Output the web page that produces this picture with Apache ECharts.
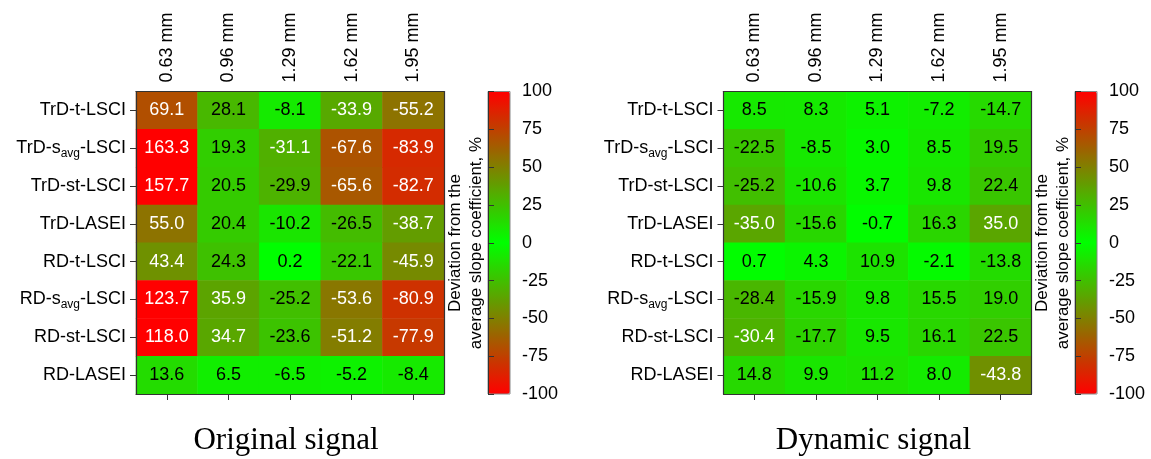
<!DOCTYPE html>
<html>
<head>
<meta charset="utf-8">
<script src="https://cdn.jsdelivr.net/npm/echarts@6/dist/echarts.min.js"></script>
<style>
html,body{margin:0;padding:0;background:#fff;}
#chart{width:1151px;height:459px;}
</style>
</head>
<body>
<div id="chart"></div>
<script>
// ---- data ----
const columns = ['0.63 mm', '0.96 mm', '1.29 mm', '1.62 mm', '1.95 mm'];
const rows = ['TrD-t-LSCI', 'TrD-savg-LSCI', 'TrD-st-LSCI', 'TrD-LASEI',
              'RD-t-LSCI', 'RD-savg-LSCI', 'RD-st-LSCI', 'RD-LASEI'];
const originalValues = [
  [69.1, 28.1, -8.1, -33.9, -55.2],
  [163.3, 19.3, -31.1, -67.6, -83.9],
  [157.7, 20.5, -29.9, -65.6, -82.7],
  [55.0, 20.4, -10.2, -26.5, -38.7],
  [43.4, 24.3, 0.2, -22.1, -45.9],
  [123.7, 35.9, -25.2, -53.6, -80.9],
  [118.0, 34.7, -23.6, -51.2, -77.9],
  [13.6, 6.5, -6.5, -5.2, -8.4]
];
const dynamicValues = [
  [8.5, 8.3, 5.1, -7.2, -14.7],
  [-22.5, -8.5, 3.0, 8.5, 19.5],
  [-25.2, -10.6, 3.7, 9.8, 22.4],
  [-35.0, -15.6, -0.7, 16.3, 35.0],
  [0.7, 4.3, 10.9, -2.1, -13.8],
  [-28.4, -15.9, 9.8, 15.5, 19.0],
  [-30.4, -17.7, 9.5, 16.1, 22.5],
  [14.8, 9.9, 11.2, 8.0, -43.8]
];
const colorbarMin = -100;
const colorbarMax = 100;
const colorbarStep = 25;
const panelTitles = ['Original signal', 'Dynamic signal'];
const colorbarTitle = 'Deviation from the\naverage slope coefficient, %';

// ---- helpers ----
const SANS = 'Liberation Sans, Arial, sans-serif';
const SERIF = 'Liberation Serif, Times New Roman, serif';
const AXIS_COLOR = '#333';

function buildData(values) {
  const out = [];
  values.forEach((row, r) => {
    row.forEach((v, c) => {
      out.push({
        value: [c, r, v],
        label: { color: Math.abs(v) > 30 ? '#ffffff' : '#000000' }
      });
    });
  });
  return out;
}

function rowFormatter(name) {
  return name.replace('savg', 's{sub|avg}');
}

const gridLeft = [136, 723.5];
const gridWidth = 308;
const gridTop = 91.5;
const gridHeight = 302.5;
const cbLeft = [488, 1075];
const cbWidth = 22;

const grids = [];
const xAxes = [];
const yAxes = [];
const series = [];
const visualMaps = [];
const graphics = [];
const panels = [originalValues, dynamicValues];

panels.forEach((vals, p) => {
  const g = grids.length;
  grids.push({ left: gridLeft[p], top: gridTop, width: gridWidth, height: gridHeight });
  // top axis with labels
  xAxes.push({
    type: 'category', gridIndex: g, data: columns, position: 'top', z: 10,
    axisLine: { show: true, lineStyle: { color: AXIS_COLOR, width: 1.2 } },
    axisTick: { show: false },
    axisLabel: { rotate: -90, margin: 9, fontSize: 18, fontFamily: SANS, color: '#000' },
    splitLine: { show: false }
  });
  // bottom axis with ticks only
  xAxes.push({
    type: 'category', gridIndex: g, data: columns, position: 'bottom', z: 10,
    axisLine: { show: true, lineStyle: { color: AXIS_COLOR, width: 1.2 } },
    axisTick: { show: true, alignWithLabel: true, length: 6, lineStyle: { color: AXIS_COLOR } },
    axisLabel: { show: false },
    splitLine: { show: false }
  });
  // left axis with labels
  yAxes.push({
    type: 'category', gridIndex: g, data: rows, inverse: true, position: 'left', z: 10,
    axisLine: { show: true, lineStyle: { color: AXIS_COLOR, width: 1.2 } },
    axisTick: { show: true, alignWithLabel: true, length: 6, lineStyle: { color: AXIS_COLOR } },
    axisLabel: {
      margin: 10, fontSize: 18, fontFamily: SANS, color: '#000',
      formatter: rowFormatter,
      rich: { sub: { fontSize: 12, fontFamily: SANS, color: '#000', padding: [11, 0, 0, 0] } }
    },
    splitLine: { show: false }
  });
  // right border
  yAxes.push({
    type: 'category', gridIndex: g, data: rows, inverse: true, position: 'right', z: 10,
    axisLine: { show: true, lineStyle: { color: AXIS_COLOR, width: 1.2 } },
    axisTick: { show: false }, axisLabel: { show: false }, splitLine: { show: false }
  });
  series.push({
    type: 'heatmap', xAxisIndex: 2 * p, yAxisIndex: 2 * p,
    data: buildData(vals),
    label: {
      show: true, fontSize: 18, fontFamily: SANS,
      formatter: (pr) => pr.value[2].toFixed(1)
    },
    itemStyle: { borderWidth: 0 },
    emphasis: { disabled: true }
  });
  visualMaps.push({
    type: 'continuous', seriesIndex: p, dimension: 2,
    min: colorbarMin, max: colorbarMax,
    calculable: false, orient: 'vertical', realtime: false,
    left: cbLeft[p], top: gridTop, itemWidth: cbWidth, itemHeight: gridHeight,
    padding: 0, text: null, showLabel: false, hoverLink: false,
    inRange: { color: ['#ff0000', '#808000', '#00ff00', '#808000', '#ff0000'] }
  });
  graphics.push({
    type: 'text', x: gridLeft[p] + gridWidth / 2 - 4, y: 441,
    style: { text: panelTitles[p], font: '31px ' + SERIF, fill: '#000', textAlign: 'center', textVerticalAlign: 'middle' }
  });
  graphics.push({
    type: 'text', x: (gridLeft[p] + gridWidth + cbLeft[p]) / 2, y: 243,
    rotation: Math.PI / 2,
    style: { text: colorbarTitle, font: '17px ' + SANS, fill: '#000', textAlign: 'center', textVerticalAlign: 'middle', lineHeight: 21 }
  });
});

// colorbar axes
panels.forEach((vals, p) => {
  const g = grids.length;
  grids.push({ left: cbLeft[p], top: gridTop, width: cbWidth, height: gridHeight, show: true, borderColor: '#888', borderWidth: 1, backgroundColor: 'transparent', z: 10 });
  xAxes.push({ type: 'value', gridIndex: g, show: false, min: 0, max: 1 });
  yAxes.push({
    type: 'value', gridIndex: g, position: 'right', min: colorbarMin, max: colorbarMax, interval: colorbarStep, z: 10,
    axisLine: { show: true, lineStyle: { color: AXIS_COLOR, width: 1 } },
    axisTick: { show: true, inside: false, length: 6, lineStyle: { color: AXIS_COLOR } },
    axisLabel: { margin: 12, fontSize: 18, fontFamily: SANS, color: '#000' },
    splitLine: { show: false }
  });
});

const chart = echarts.init(document.getElementById('chart'), null, { renderer: 'canvas' });
chart.setOption({
  backgroundColor: '#ffffff',
  animation: false,
  grid: grids,
  xAxis: xAxes,
  yAxis: yAxes,
  visualMap: visualMaps,
  series: series,
  graphic: graphics
});
</script>
</body>
</html>
